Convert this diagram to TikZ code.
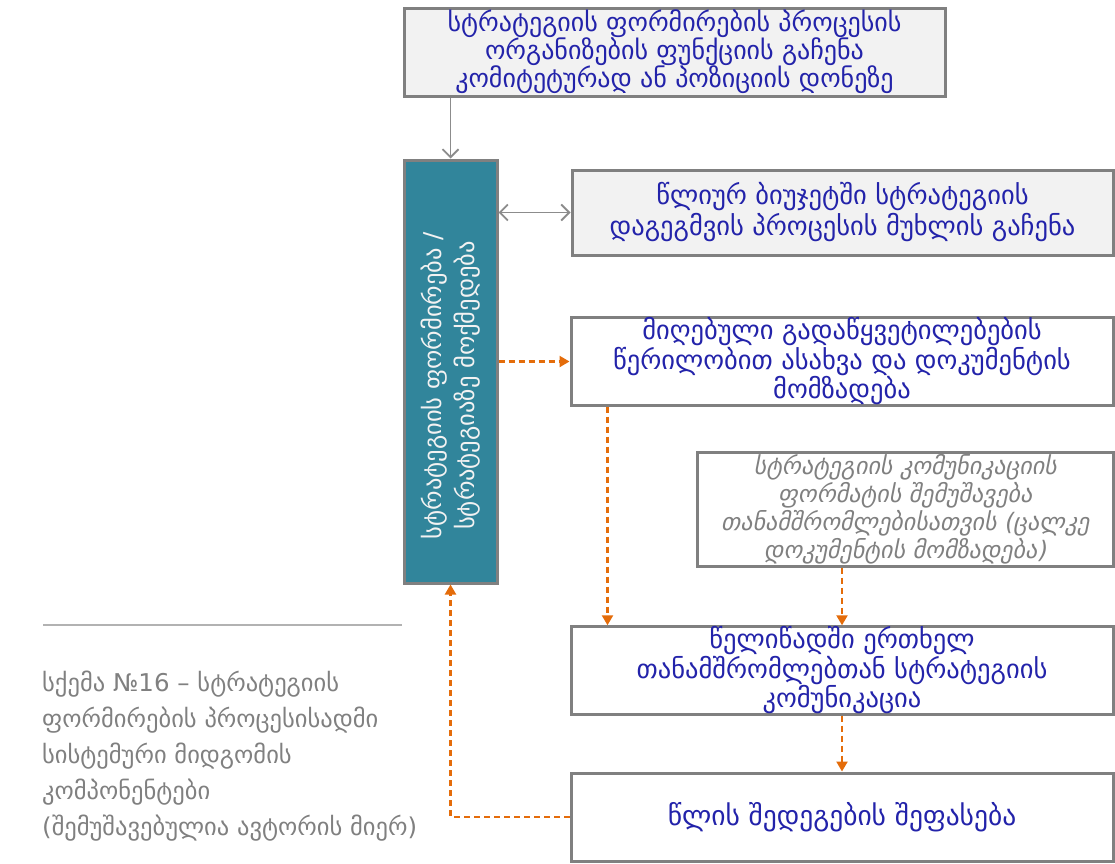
\documentclass[tikz,border=0pt]{standalone}
\usepackage{fontspec}
\setmainfont{DejaVu Sans}
\newfontfamily\geoit[FakeSlant=0.2]{DejaVu Sans}
\usetikzlibrary{arrows.meta}
\definecolor{txtblue}{RGB}{35,35,170}
\definecolor{bordergray}{RGB}{128,128,128}
\definecolor{fillgray}{RGB}{242,242,242}
\definecolor{tealbox}{RGB}{49,133,155}
\definecolor{orng}{RGB}{228,108,10}
\definecolor{capgray}{RGB}{128,128,128}
\definecolor{linegray}{RGB}{140,140,140}
\begin{document}
\begin{tikzpicture}[x=1pt,y=-1pt,
 box/.style={draw=bordergray,line width=3pt,align=center,text=txtblue,inner sep=0pt,font=\fontsize{26.5}{29.5}\selectfont},
 garrow/.style={draw=linegray,line width=1.8pt,-{Straight Barb[length=8pt,width=16pt]}},
 gdarrow/.style={draw=linegray,line width=1.8pt,{Straight Barb[length=8pt,width=16pt]}-{Straight Barb[length=8pt,width=16pt]}},
 oarrow/.style={draw=orng,line width=2.2pt,dash pattern=on 6pt off 4pt,-{Triangle[length=10pt,width=11pt]}}]
\useasboundingbox (0,0) rectangle (1115,863);
\node[box,fill=fillgray,minimum width=541pt,minimum height=88pt,font=\fontsize{26}{28}\selectfont] (top) at (674.5,52)
 {სტრატეგიის ფორმირების პროცესის\\ორგანიზების ფუნქციის გაჩენა\\კომიტეტურად ან პოზიციის დონეზე};
\node[box,fill=tealbox,minimum width=93pt,minimum height=423pt] (vert) at (450.5,371.5) {};
\node[rotate=90,align=center,text=white!90!gray,inner sep=0pt,font=\fontsize{24.5}{33}\selectfont] (verttext) at ([yshift=-14pt]vert.center)
 {სტრატეგიის ფორმირება /\\სტრატეგიაზე მოქმედება};
\node[box,fill=fillgray,minimum width=541pt,minimum height=85pt,font=\fontsize{26.5}{31}\selectfont] (b2) at (842.5,212.5)
 {წლიურ ბიუჯეტში სტრატეგიის\\დაგეგმვის პროცესის მუხლის გაჩენა};
\node[box,fill=white,minimum width=542pt,minimum height=85pt] (b3) at (842,361.5)
 {მიღებული გადაწყვეტილებების\\წერილობით ასახვა და დოკუმენტის\\მომზადება};
\node[box,fill=white,minimum width=416pt,minimum height=114pt,text=capgray,font=\geoit\fontsize{24}{28}\selectfont] (b4) at (905,509)
 {სტრატეგიის კომუნიკაციის\\ფორმატის შემუშავება\\თანამშრომლებისათვის (ცალკე\\დოკუმენტის მომზადება)};
\node[box,fill=white,minimum width=542pt,minimum height=87pt] (b5) at (842,670.5)
 {წელიწადში ერთხელ\\თანამშრომლებთან სტრატეგიის\\კომუნიკაცია};
\node[box,fill=white,minimum width=542pt,minimum height=88pt,font=\fontsize{27.5}{30}\selectfont] (b6) at (842,817)
 {წლის შედეგების შეფასება};
\node[anchor=north west,align=left,text=capgray,inner sep=0pt,font=\fontsize{24.5}{36}\selectfont] (cap) at (42,671)
 {სქემა №16 – სტრატეგიის\\ფორმირების პროცესისადმი\\სისტემური მიდგომის\\კომპონენტები\\(შემუშავებულია ავტორის მიერ)};
\coordinate (capl) at (43,625);
\coordinate (capr) at (402,625);
\draw[draw=gray!60,line width=1.2pt] (capl) -- (capr);
\draw[garrow] (top.south -| vert.north) -- (vert.north);
\draw[gdarrow] (vert.east |- b2.west) -- (b2.west);
\draw[oarrow] (vert.east |- b3.west) -- (b3.west);
\draw[oarrow] ([xshift=38pt]b3.south west) -- ([xshift=38pt]b5.north west);
\draw[oarrow] (b5.north |- b4.south) -- (b5.north);
\draw[oarrow] (b5.south) -- (b6.north);
\draw[oarrow] (b6.west) -| (vert.south);
\end{tikzpicture}
\end{document}
